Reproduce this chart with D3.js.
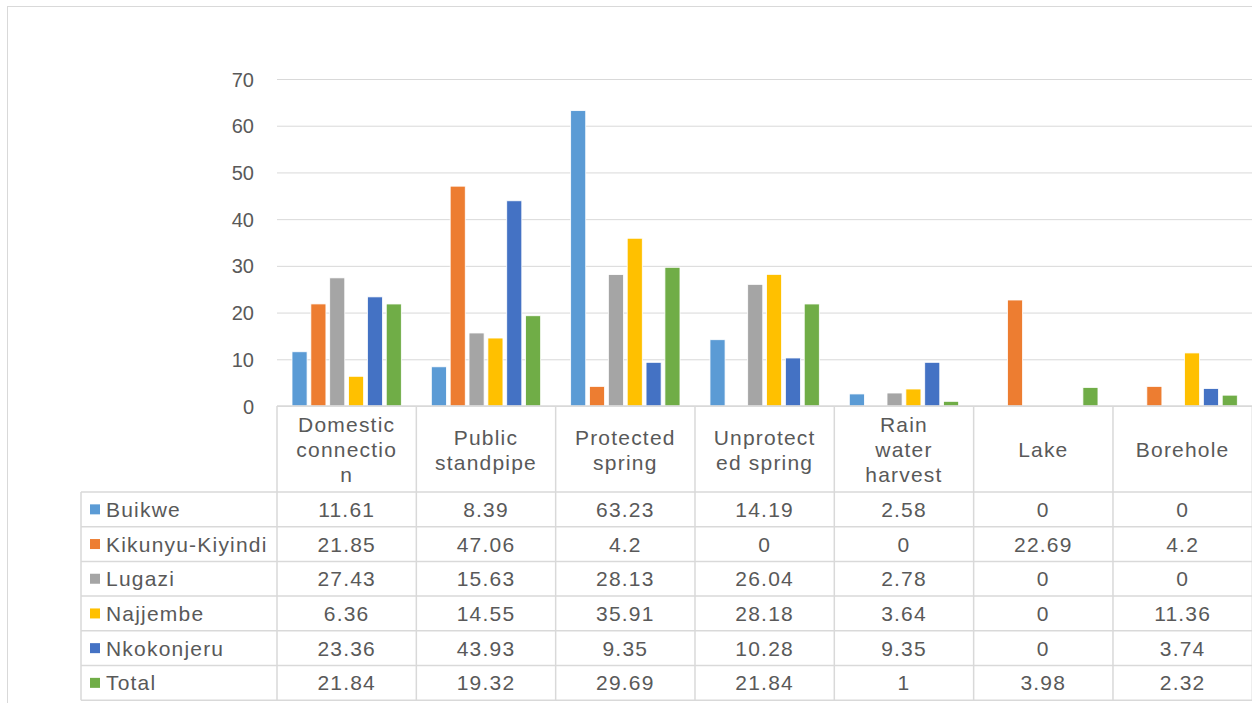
<!DOCTYPE html>
<html>
<head>
<meta charset="utf-8">
<script src="https://cdn.jsdelivr.net/npm/d3@7"></script>
<style>
  body { margin: 0; background: #fff; }
  text { font-family: "Liberation Sans", Arial, sans-serif; fill: #595959; }
</style>
</head>
<body>
<div id="chart"></div>
<script>
// categories (water sources) and their wrapped labels as shown in the data table
var categories = ["Domestic connection", "Public standpipe", "Protected spring", "Unprotected spring", "Rain water harvest", "Lake", "Borehole"];
var categoryLines = [["Domestic", "connectio", "n"], ["Public", "standpipe"], ["Protected", "spring"], ["Unprotect", "ed spring"], ["Rain", "water", "harvest"], ["Lake"], ["Borehole"]];

var seriesNames = ["Buikwe", "Kikunyu-Kiyindi", "Lugazi", "Najjembe", "Nkokonjeru", "Total"];
var colors = ["#5b9bd5", "#ed7d31", "#a5a5a5", "#ffc000", "#4472c4", "#70ad47"];

var buikwe = [11.61, 8.39, 63.23, 14.19, 2.58, 0, 0];
var kikunyu = [21.85, 47.06, 4.2, 0, 0, 22.69, 4.2];
var lugazi = [27.43, 15.63, 28.13, 26.04, 2.78, 0, 0];
var najjembe = [6.36, 14.55, 35.91, 28.18, 3.64, 0, 11.36];
var nkokonjeru = [23.36, 43.93, 9.35, 10.28, 9.35, 0, 3.74];
var total = [21.84, 19.32, 29.69, 21.84, 1, 3.98, 2.32];

var yTicks = [0, 10, 20, 30, 40, 50, 60, 70];

var seriesValues = [buikwe, kikunyu, lugazi, najjembe, nkokonjeru, total];

var W = 1252, H = 703;
var plotLeft = 277, plotRight = 1252.3, plotTop = 79, plotBottom = 406;
var tableLeft = 81, headerBottom = 492, rowH = 34.7;
var gridColor = "#d9d9d9";
var tableFont = "21px", tableSpacing = "1.2px";

var svg = d3.select("#chart")
    .append("svg")
    .attr("width", W)
    .attr("height", H);

// chart border
svg.append("rect")
    .attr("x", 7.5)
    .attr("y", 6.5)
    .attr("width", 1252)
    .attr("height", 710)
    .attr("fill", "none")
    .attr("stroke", gridColor);

var x0 = d3.scaleBand()
    .domain(categories)
    .range([plotLeft, plotRight]);

var x1 = d3.scaleBand()
    .domain(seriesNames)
    .range([15, x0.bandwidth() - 15])
    .paddingInner(0.2);

var y = d3.scaleLinear()
    .domain([0, 70])
    .range([plotBottom, plotTop]);

// gridlines + tick labels
var yAxis = svg.append("g")
    .attr("transform", "translate(" + plotLeft + ",0)")
    .call(d3.axisLeft(y).tickValues(yTicks).tickSize(-(plotRight - plotLeft)).tickPadding(23));
yAxis.select(".domain").remove();
yAxis.selectAll(".tick line").attr("stroke", gridColor).attr("stroke-width", 1);
yAxis.selectAll(".tick text")
    .attr("fill", "#595959")
    .style("font-size", "20px")
    .attr("dy", "0.35em");

// bars
var rows = seriesNames.map(function (s, i) {
    return { name: s, color: colors[i], values: seriesValues[i] };
});

rows.forEach(function (r) {
    svg.append("g")
        .selectAll("rect")
        .data(r.values)
        .enter()
        .append("rect")
        .attr("x", function (d, j) { return x0(categories[j]) + x1(r.name); })
        .attr("y", function (d) { return y(d); })
        .attr("width", x1.bandwidth())
        .attr("height", function (d) { return y(0) - y(d); })
        .attr("fill", r.color)
        .attr("stroke", "#fff")
        .attr("stroke-width", 0.8);
});

// data table
var table = svg.append("g");
var tableBottom = headerBottom + rowH * seriesNames.length;

// horizontal lines
table.append("line")
    .attr("x1", plotLeft).attr("x2", plotRight)
    .attr("y1", plotBottom).attr("y2", plotBottom)
    .attr("stroke", gridColor).attr("stroke-width", 1.5);
for (var i = 0; i <= seriesNames.length; i++) {
    var yy = headerBottom + rowH * i;
    table.append("line")
        .attr("x1", tableLeft).attr("x2", plotRight)
        .attr("y1", yy).attr("y2", yy)
        .attr("stroke", gridColor).attr("stroke-width", 1.5);
}
// vertical lines
table.append("line")
    .attr("x1", tableLeft).attr("x2", tableLeft)
    .attr("y1", headerBottom).attr("y2", tableBottom)
    .attr("stroke", gridColor).attr("stroke-width", 1.5);
categories.concat([null]).forEach(function (c) {
    var xx = c === null ? plotRight : x0(c);
    table.append("line")
        .attr("x1", xx).attr("x2", xx)
        .attr("y1", plotBottom).attr("y2", tableBottom)
        .attr("stroke", gridColor).attr("stroke-width", 1.5);
});

// header labels
var headerMid = (plotBottom + headerBottom) / 2;
var lineH = 25;
categoryLines.forEach(function (lines, j) {
    var t = table.append("text")
        .attr("text-anchor", "middle")
        .style("font-size", tableFont)
        .style("letter-spacing", tableSpacing);
    lines.forEach(function (l, k) {
        t.append("tspan")
            .attr("x", x0(categories[j]) + x0.bandwidth() / 2)
            .attr("y", headerMid + (k - (lines.length - 1) / 2) * lineH + 8)
            .text(l);
    });
});

// rows: legend key, series name, values
rows.forEach(function (r, i) {
    var cy = headerBottom + rowH * i + rowH / 2;
    table.append("rect")
        .attr("x", 90)
        .attr("y", cy - 5)
        .attr("width", 10)
        .attr("height", 10)
        .attr("fill", r.color);
    table.append("text")
        .attr("x", 106)
        .attr("y", cy + 7.5)
        .style("font-size", tableFont)
        .style("letter-spacing", tableSpacing)
        .text(r.name);
    r.values.forEach(function (v, j) {
        table.append("text")
            .attr("x", x0(categories[j]) + x0.bandwidth() / 2)
            .attr("y", cy + 7.5)
            .attr("text-anchor", "middle")
            .style("font-size", tableFont)
            .style("letter-spacing", tableSpacing)
            .text(String(v));
    });
});
</script>
</body>
</html>
